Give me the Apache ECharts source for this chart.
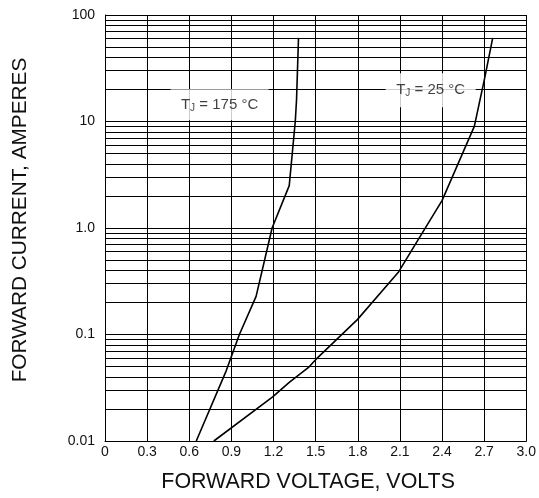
<!DOCTYPE html>
<html><head><meta charset="utf-8">
<script src="https://cdn.jsdelivr.net/npm/echarts@6/dist/echarts.min.js"></script>
<style>html,body{margin:0;padding:0;background:#fff}#c{width:539px;height:498px}</style>
</head><body><div id="c"></div>
<script>
// Tick labels
const xTickLabels = ['0','0.3','0.6','0.9','1.2','1.5','1.8','2.1','2.4','2.7','3.0'];
const yTickValues = [0.01, 0.1, 1, 10, 100];
const yTickLabels = ['0.01', '0.1', '1.0', '10', '100'];
// Minor log-paper grid values (2..9 within each decade)
const minorGridValues = [0.02,0.03,0.04,0.05,0.06,0.07,0.08,0.09,
  0.2,0.3,0.4,0.5,0.6,0.7,0.8,0.9,
  2,3,4,5,6,7,8,9,
  20,30,40,50,60,70,80,90];
// TJ = 175 °C curve
const voltage175 = [0.65, 0.863, 0.957, 1.076, 1.19, 1.312, 1.355, 1.364, 1.378];
const current175 = [0.01, 0.0456, 0.1, 0.228, 1.0, 2.5, 10, 16, 61];
// TJ = 25 °C curve
const voltage25 = [0.775, 1.194, 1.312, 1.454, 1.50, 1.797, 2.092, 2.199, 2.40, 2.63, 2.706, 2.761];
const current25 = [0.01, 0.026, 0.0355, 0.0497, 0.058, 0.138, 0.389, 0.665, 1.81, 9.0, 26.4, 61];
// Curve labels (anchored in data coordinates)
const curveLabels = [
  {v: 0.816, i: 14.4, t: '175'},
  {v: 2.319, i: 19.7, t: '25'}
];

const FONT = "'Liberation Sans', Arial, sans-serif";
const zip = (a, b) => a.map((x, k) => [x, b[k]]);

const chart = echarts.init(document.getElementById('c'), null, {renderer: 'canvas'});
chart.setOption({
  animation: false,
  backgroundColor: '#fff',
  grid: {left: 105, right: 11, top: 15, bottom: 54, containLabel: false},
  xAxis: {
    type: 'value', min: 0, max: 3.0, interval: 0.3,
    name: 'FORWARD VOLTAGE, VOLTS', nameLocation: 'middle', nameGap: 31,
    nameTextStyle: {fontFamily: FONT, fontSize: 21.4, color: '#111', padding: [0, 15, 0, 0]},
    axisLine: {lineStyle: {color: '#000', width: 1}},
    axisTick: {show: false},
    axisLabel: {fontFamily: FONT, fontSize: 14, color: '#111', margin: 4,
      formatter: v => xTickLabels[Math.round(v / 0.3)]},
    splitLine: {show: true, lineStyle: {color: '#000', width: 1}}
  },
  yAxis: {
    type: 'log', logBase: 10, min: 0.01, max: 100,
    name: 'FORWARD CURRENT, AMPERES', nameLocation: 'middle', nameGap: 74,
    nameTextStyle: {fontFamily: FONT, fontSize: 20.8, color: '#111', padding: [0, 0, 0, 16]},
    axisLine: {lineStyle: {color: '#000', width: 1}},
    axisTick: {show: false},
    axisLabel: {fontFamily: FONT, fontSize: 14, color: '#111', margin: 10, padding: [5, 0, 0, 0],
      formatter: v => {
        const k = yTickValues.findIndex(t => Math.abs(Math.log10(t) - Math.log10(v)) < 1e-6);
        return k >= 0 ? yTickLabels[k] : '';
      }},
    splitLine: {show: true, lineStyle: {color: '#000', width: 1}}
  },
  series: [
    {
      type: 'line', name: 'TJ = 175 °C', data: zip(voltage175, current175),
      showSymbol: false, symbol: 'none', smooth: false,
      lineStyle: {color: '#000', width: 1.6}, z: 5, silent: true,
      markLine: {
        silent: true, symbol: ['none', 'none'], animation: false,
        label: {show: false},
        lineStyle: {color: '#000', width: 1, type: 'solid'},
        emphasis: {disabled: true},
        data: minorGridValues.map(v => ({yAxis: v}))
      }
    },
    {
      type: 'line', name: 'TJ = 25 °C', data: zip(voltage25, current25),
      showSymbol: false, symbol: 'none', smooth: false,
      lineStyle: {color: '#000', width: 1.6}, z: 5, silent: true
    },
    {
      type: 'scatter', symbolSize: 0, z: 20, silent: true,
      data: curveLabels.map((d, k) => ({
        value: [d.v, d.i], t: d.t,
        label: k === 0 ? {width: 90, padding: [8, 4, 7, 4]} : {width: 82, padding: [9, 4, 9, 4]}
      })),
      label: {
        show: true, position: 'inside',
        backgroundColor: '#fff',
        align: 'center', verticalAlign: 'middle',
        formatter: p => '{a|T}{b|J}{a| = ' + p.data.t + ' °C}',
        rich: {
          a: {fontFamily: FONT, fontSize: 15, color: '#111'},
          b: {fontFamily: FONT, fontSize: 10, color: '#111', padding: [6, 0, 0, 0]}
        }
      }
    }
  ]
});
</script>
</body></html>
